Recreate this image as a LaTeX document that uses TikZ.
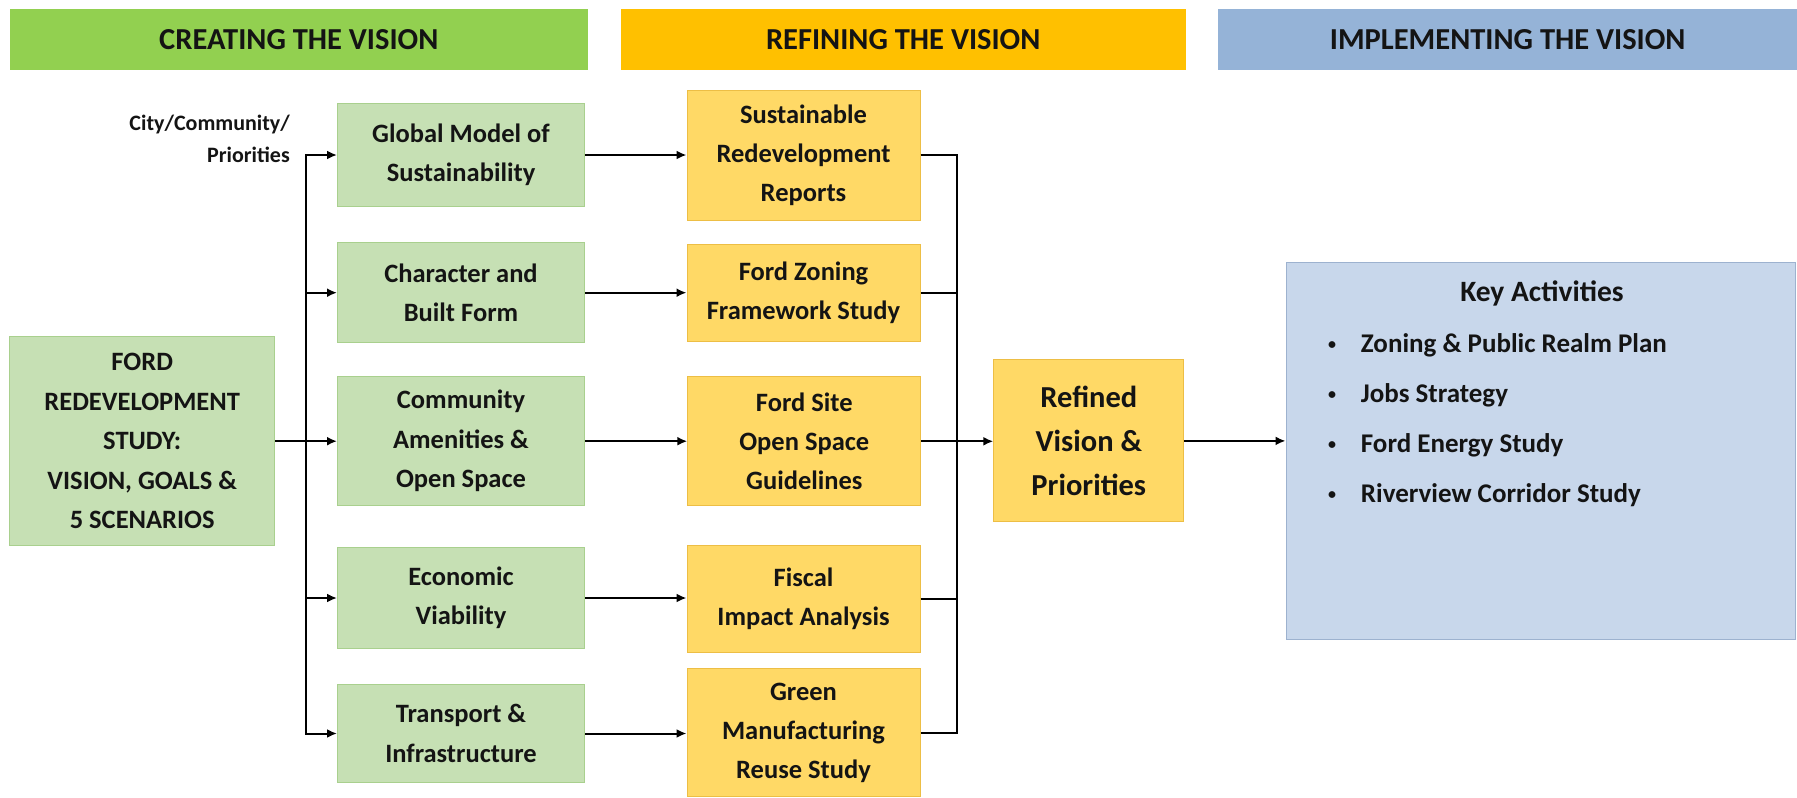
\documentclass[tikz,border=0pt]{standalone}
\usepackage{fontspec}
\setmainfont{Carlito}
\usetikzlibrary{arrows.meta,calc}
\definecolor{hgreen}{HTML}{92D050}
\definecolor{gfill}{HTML}{C6E0B4}
\definecolor{gborder}{HTML}{A9D08E}
\definecolor{hyellow}{HTML}{FFC000}
\definecolor{yfill}{HTML}{FFD966}
\definecolor{yborder}{HTML}{EDBE45}
\definecolor{hblue}{HTML}{95B3D7}
\definecolor{bfill}{HTML}{C8D7EB}
\definecolor{bborder}{HTML}{9DB2CF}
\definecolor{txt}{HTML}{141414}
\newcommand{\smbul}{\raisebox{2.5pt}{\fontsize{16}{16}\selectfont\textbullet}}
\begin{document}
\begin{tikzpicture}[x=1pt,y=-1pt,
  hdr/.style={inner sep=0pt, minimum height=61pt, text=txt, font=\bfseries\fontsize{30.5}{36}\selectfont},
  gbox/.style={draw=gborder, fill=gfill, line width=1pt, inner sep=0pt, align=center, text=txt, font=\bfseries\fontsize{26.5}{39.5}\selectfont},
  ybox/.style={draw=yborder, fill=yfill, line width=1pt, inner sep=0pt, align=center, text=txt, font=\bfseries\fontsize{26.5}{39}\selectfont},
  arr/.style={line width=2pt, -{Latex[length=10pt,width=9pt]}},
  ln/.style={line width=2pt},
  item/.style={anchor=west, inner sep=0pt, text=txt, font=\bfseries\fontsize{27}{32}\selectfont}]
\useasboundingbox (0,0) rectangle (1797,798);
\fill[white] (0,0) rectangle (1797,798);

% headers
\node[hdr, fill=hgreen, minimum width=578pt] (h1) at (298.8,39.5) {CREATING THE VISION};
\node[hdr, fill=hyellow, minimum width=565pt] (h2) at (903.2,39.5) {REFINING THE VISION};
\node[hdr, fill=hblue, minimum width=579pt] (h3) at (1507.7,39.5) {IMPLEMENTING THE VISION};

% left column
\node[gbox, minimum width=265pt, minimum height=209pt] (ford) at (142.2,441.2)
  {FORD\\REDEVELOPMENT\\STUDY:\\VISION, GOALS \&\\5 SCENARIOS};
\node[anchor=east, align=right, inner sep=0pt, text=txt, font=\bfseries\fontsize{22}{32}\selectfont] (city) at (290,139) {City/Community/\\Priorities};

% green boxes
\node[gbox, minimum width=247pt, minimum height=103pt] (glob) at (461,155) {Global Model of\\Sustainability};
\node[gbox, minimum width=247pt, minimum height=100pt] (char) at (461,292.7) {Character and\\Built Form};
\node[gbox, minimum width=247pt, minimum height=129pt] (comm) at (461,441.2) {Community\\Amenities \&\\Open Space};
\node[gbox, minimum width=247pt, minimum height=101pt] (econ) at (461,598) {Economic\\Viability};
\node[gbox, minimum width=247pt, minimum height=98pt] (trans) at (461,733.5) {Transport \&\\Infrastructure};

% yellow boxes
\node[ybox, minimum width=233pt, minimum height=130pt] (sust) at (803.5,155) {Sustainable\\Redevelopment\\Reports};
\node[ybox, minimum width=233pt, minimum height=97pt] (zon) at (803.5,292.7) {Ford Zoning\\Framework Study};
\node[ybox, minimum width=233pt, minimum height=129pt] (site) at (804.3,441.3) {Ford Site\\Open Space\\Guidelines};
\node[ybox, minimum width=233pt, minimum height=107pt] (fisc) at (803.5,598.7) {Fiscal\\Impact Analysis};
\node[ybox, minimum width=233pt, minimum height=128pt] (gman) at (803.5,732.5) {Green\\Manufacturing\\Reuse Study};

% refined
\node[ybox, minimum width=190pt, minimum height=162pt, font=\bfseries\fontsize{30.5}{44}\selectfont] (ref) at (1088.8,440.9) {Refined\\Vision \&\\Priorities};

% key activities
\node[draw=bborder, fill=bfill, line width=1pt, minimum width=509pt, minimum height=377pt, inner sep=0pt] (key) at (1540.5,450.8) {};
\node[inner sep=0pt, text=txt, font=\bfseries\fontsize{29.5}{34}\selectfont] (keyt) at (1542,293) {Key Activities};
\node[item] (k1) at (1328,345) {\makebox[32.7pt][l]{\smbul}Zoning \& Public Realm Plan};
\node[item] (k2) at (1328,395) {\makebox[32.7pt][l]{\smbul}Jobs Strategy};
\node[item] (k3) at (1328,445) {\makebox[32.7pt][l]{\smbul}Ford Energy Study};
\node[item] (k4) at (1328,495) {\makebox[32.7pt][l]{\smbul}Riverview Corridor Study};

% trunk 1
\coordinate (tr) at (306,441.2);
\draw[arr] (ford.east) -- (tr) |- (glob.west);
\draw[arr] (tr) |- (char.west);
\draw[arr] (ford.east) -- (comm.west);
\draw[arr] (tr) |- (econ.west);
\draw[arr] (tr) |- (trans.west);

% green to yellow
\draw[arr] (glob.east) -- (glob.east -| sust.west);
\draw[arr] (char.east) -- (char.east -| zon.west);
\draw[arr] (comm.east) -- (comm.east -| site.west);
\draw[arr] (econ.east) -- (econ.east -| fisc.west);
\draw[arr] (trans.east) -- (trans.east -| gman.west);

% trunk 2
\coordinate (tr2) at (957,441.3);
\draw[ln] (sust.east) -| (tr2);
\draw[ln] (zon.east) -| (tr2);
\draw[ln] (fisc.east) -| (tr2);
\draw[ln] (gman.east) -| (tr2);
\draw[arr] (site.east) -- (site.east -| ref.west);

% refined to key
\draw[arr] (ref.east) -- (ref.east -| key.west);
\end{tikzpicture}
\end{document}
